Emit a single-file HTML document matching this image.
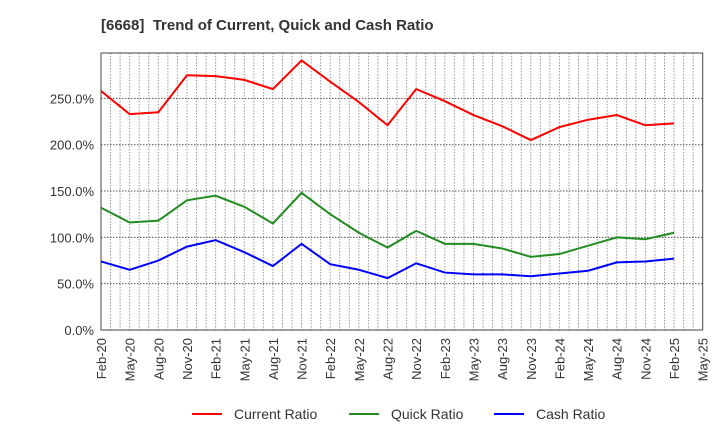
<!DOCTYPE html>
<html><head><meta charset="utf-8"><style>
body{margin:0;background:#fff;font-family:"Liberation Sans",sans-serif}
</style></head><body>
<svg id="c" width="720" height="440" xmlns="http://www.w3.org/2000/svg">
<text x="101" y="30" font-size="15" font-weight="bold" fill="#333">[6668]&#160; Trend of Current, Quick and Cash Ratio</text>
<g id="grid"></g><g id="axes"></g><g id="series"></g>
<g>
<line x1="192" y1="414" x2="222" y2="414" stroke="#f00" stroke-width="2"/><text x="234" y="419" font-size="14" fill="#333">Current Ratio</text>
<line x1="349" y1="414" x2="379" y2="414" stroke="#228b22" stroke-width="2"/><text x="391" y="419" font-size="14" fill="#333">Quick Ratio</text>
<line x1="494" y1="414" x2="524" y2="414" stroke="#00f" stroke-width="2"/><text x="536" y="419" font-size="14" fill="#333">Cash Ratio</text>
</g>
</svg>
<script>
const categories=["Feb-20","May-20","Aug-20","Nov-20","Feb-21","May-21","Aug-21","Nov-21","Feb-22","May-22","Aug-22","Nov-22","Feb-23","May-23","Aug-23","Nov-23","Feb-24","May-24","Aug-24","Nov-24","Feb-25","May-25"];
const currentRatio=[258,233,235,275,274,270,260,291,268,246,221,260,247,232,220,205,219,227,232,221,223];
const quickRatio=[132,116,118,140,145,133,115,148,125,105,89,107,93,93,88,79,82,91,100,98,105];
const cashRatio=[74,65,75,90,97,84,69,93,71,65,56,72,62,60,60,58,61,64,73,74,77];
const yTicks=[0,50,100,150,200,250];
const L=101,R=702.7,T=53,B=330,YMAX=299;
const NS="http://www.w3.org/2000/svg";
const xs=i=>L+(R-L)*i/(categories.length-1);
const ys=v=>B-(B-T)*v/YMAX;
function mk(tag,attrs,parent){const e=document.createElementNS(NS,tag);for(const k in attrs)e.setAttribute(k,attrs[k]);document.getElementById(parent).appendChild(e);return e;}
for(let m=1;m<(categories.length-1)*3;m++){const x=L+(R-L)*m/((categories.length-1)*3);
const g=mk('line',{x1:x,x2:x,y1:T,y2:B,stroke:'#999','stroke-dasharray':'1.5,1.5','stroke-width':1},'grid');

}
yTicks.forEach(v=>{const y=ys(v);
if(v>0){const g=mk('line',{x1:L,x2:R,y1:y,y2:y,stroke:'#555','stroke-dasharray':'1.5,1.5','stroke-width':1},'grid');

}
const t=mk('text',{x:L-7,y:y+5,'text-anchor':'end','font-size':13,fill:'#333'},'axes');t.textContent=v.toFixed(1)+'%';

});
const fr=mk('rect',{x:L,y:T,width:R-L,height:B-T,fill:'none',stroke:'#444','stroke-width':1},'axes');


categories.forEach((c,i)=>{const x=xs(i);
const t=mk('text',{x:0,y:0,'text-anchor':'end','font-size':13,fill:'#333',transform:`translate(${x+5},${B+8}) rotate(-90)`},'axes');t.textContent=c;

});
[[currentRatio,'#f00','current-ratio-line'],[quickRatio,'#228b22','quick-ratio-line'],[cashRatio,'#00f','cash-ratio-line']].forEach(([d,c,n])=>{
const p=mk('polyline',{points:d.map((v,i)=>xs(i)+','+ys(v)).join(' '),fill:'none',stroke:c,'stroke-width':2},'series');

});
</script>
</body></html>
